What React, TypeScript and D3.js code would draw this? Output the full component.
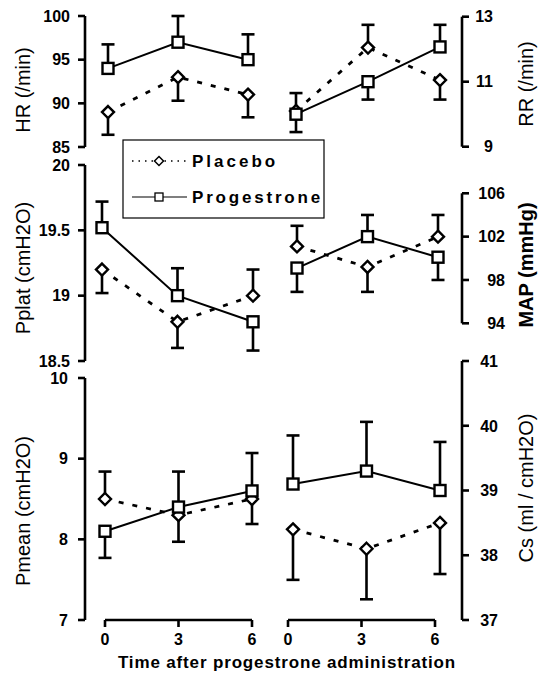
import React from 'react';
import * as d3 from 'd3';

// ---- data ----
const times = [0, 3, 6];
const xTickLabels = ['0', '3', '6'];
const xTitle = 'Time after progestrone administration';
const seriesNames = ['Placebo', 'Progestrone'];

// signed error: positive = bar drawn upward, negative = downward
const hrPlacebo = [89, 93, 91];
const hrPlaceboErr = [-2.6, -2.7, -2.6];
const hrProg = [94, 97, 95];
const hrProgErr = [2.75, 3.0, 2.9];

const rrPlacebo = [10.1, 12.05, 11.05];
const rrPlaceboErr = [0.55, 0.7, -0.6];
const rrProg = [10.0, 11.0, 12.07];
const rrProgErr = [-0.55, -0.55, 0.68];

const pplatPlacebo = [19.2, 18.8, 19.0];
const pplatPlaceboErr = [-0.18, -0.2, 0.2];
const pplatProg = [19.52, 19.0, 18.8];
const pplatProgErr = [0.2, 0.21, -0.22];

const mapPlacebo = [101.1, 99.2, 102.0];
const mapPlaceboErr = [1.9, -2.3, 2.0];
const mapProg = [99.1, 102.0, 100.1];
const mapProgErr = [-2.2, 2.0, -2.1];

const pmeanPlacebo = [8.5, 8.3, 8.5];
const pmeanPlaceboErr = [0.34, -0.33, -0.31];
const pmeanProg = [8.1, 8.4, 8.6];
const pmeanProgErr = [-0.33, 0.44, 0.47];

const csPlacebo = [38.4, 38.1, 38.5];
const csPlaceboErr = [-0.78, -0.78, -0.79];
const csProg = [39.1, 39.3, 39.0];
const csProgErr = [0.75, 0.76, 0.75];

const hrTicks = [85, 90, 95, 100];
const rrTicks = [9, 11, 13];
const pplatTicks = [18.5, 19, 19.5, 20];
const mapTicks = [94, 98, 102, 106];
const pmeanTicks = [7, 8, 9, 10];
const csTicks = [37, 38, 39, 40, 41];

// ---- layout ----
const W = 542;
const H = 677;
const FONT = "'Liberation Sans', Arial, Helvetica, sans-serif";
const LEFT_AXIS_X = 85;
const RIGHT_AXIS_X = 462;

type Panel = {
  title: string;
  side: 'left' | 'right';
  ticks: number[];
  yRange: [number, number];
  xRange: [number, number];
  tickLabelX: number;
  titleY: number;
  titleBold: boolean;
  placebo: number[];
  placeboErr: number[];
  prog: number[];
  progErr: number[];
};

const panels: Panel[] = [
  { title: 'HR (/min)', side: 'left', ticks: hrTicks, yRange: [147, 16], xRange: [108, 248], tickLabelX: 70, titleY: 90, titleBold: false, placebo: hrPlacebo, placeboErr: hrPlaceboErr, prog: hrProg, progErr: hrProgErr },
  { title: 'Pplat (cmH2O)', side: 'left', ticks: pplatTicks, yRange: [361, 165], xRange: [102, 253], tickLabelX: 70, titleY: 268, titleBold: false, placebo: pplatPlacebo, placeboErr: pplatPlaceboErr, prog: pplatProg, progErr: pplatProgErr },
  { title: 'Pmean (cmH2O)', side: 'left', ticks: pmeanTicks, yRange: [620, 378], xRange: [105, 252], tickLabelX: 68, titleY: 511, titleBold: false, placebo: pmeanPlacebo, placeboErr: pmeanPlaceboErr, prog: pmeanProg, progErr: pmeanProgErr },
  { title: 'RR (/min)', side: 'right', ticks: rrTicks, yRange: [146.7, 16.7], xRange: [296, 440], tickLabelX: 493, titleY: 84, titleBold: false, placebo: rrPlacebo, placeboErr: rrPlaceboErr, prog: rrProg, progErr: rrProgErr },
  { title: 'MAP (mmHg)', side: 'right', ticks: mapTicks, yRange: [323.3, 193.3], xRange: [297, 438], tickLabelX: 505, titleY: 265, titleBold: true, placebo: mapPlacebo, placeboErr: mapPlaceboErr, prog: mapProg, progErr: mapProgErr },
  { title: 'Cs (ml / cmH2O)', side: 'right', ticks: csTicks, yRange: [620, 361], xRange: [293, 440], tickLabelX: 498, titleY: 488, titleBold: false, placebo: csPlacebo, placeboErr: csPlaceboErr, prog: csProg, progErr: csProgErr },
];

const xAxes: { range: [number, number] }[] = [
  { range: [105, 252] },
  { range: [288, 435] },
];
const X_AXIS_Y = 620;

const diamondPath = (cx: number, cy: number, r: number) =>
  `M${cx},${cy - r}L${cx + r},${cy}L${cx},${cy + r}L${cx - r},${cy}Z`;

function PanelView({ p }: { p: Panel }) {
  const ticks = p.ticks;
  const y = d3.scaleLinear().domain([ticks[0], ticks[ticks.length - 1]]).range(p.yRange);
  const x = d3.scaleLinear().domain([0, 6]).range(p.xRange);
  const axisX = p.side === 'left' ? LEFT_AXIS_X : RIGHT_AXIS_X;
  const tickDir = p.side === 'left' ? -7 : 7;
  const titleX = p.side === 'left' ? 30 : 533;

  const line = d3.line<number>().x((_, i) => x(times[i])).y((v) => y(v));
  const cap = 6.5;

  const errBars = (vals: number[], errs: number[], key: string) =>
    vals.map((v, i) => {
      const cx = x(times[i]);
      const y1 = y(v);
      const y2 = y(v + errs[i]);
      return (
        <g key={key + i}>
          <line x1={cx} x2={cx} y1={y1} y2={y2} stroke="#000" strokeWidth={2.6} />
          <line x1={cx - cap} x2={cx + cap} y1={y2} y2={y2} stroke="#000" strokeWidth={2.6} />
        </g>
      );
    });

  return (
    <g>
      <line x1={axisX} x2={axisX} y1={p.yRange[0]} y2={p.yRange[1]} stroke="#000" strokeWidth={2.6} />
      {ticks.map((t) => (
        <g key={t}>
          <line x1={axisX} x2={axisX + tickDir} y1={y(t)} y2={y(t)} stroke="#000" strokeWidth={2.6} />
          <text x={p.tickLabelX} y={y(t)} dy="0.36em" textAnchor="end" fontFamily={FONT} fontWeight="bold" fontSize={16}>
            {String(t)}
          </text>
        </g>
      ))}
      <text
        transform={`translate(${titleX},${p.titleY}) rotate(-90)`}
        textAnchor="middle"
        fontFamily={FONT}
        fontSize={20}
        fontWeight={p.titleBold ? 'bold' : 'normal'}
      >
        {p.title}
      </text>
      {errBars(p.placebo, p.placeboErr, 'pe')}
      {errBars(p.prog, p.progErr, 'ge')}
      <path d={line(p.placebo) || ''} fill="none" stroke="#000" strokeWidth={2.8} strokeDasharray="5,9" />
      <path d={line(p.prog) || ''} fill="none" stroke="#000" strokeWidth={2} />
      {p.placebo.map((v, i) => (
        <path key={'pm' + i} d={diamondPath(x(times[i]), y(v), 6)} fill="#fff" stroke="#000" strokeWidth={2.4} />
      ))}
      {p.prog.map((v, i) => (
        <rect key={'gm' + i} x={x(times[i]) - 5.5} y={y(v) - 5.5} width={11} height={11} fill="#fff" stroke="#000" strokeWidth={2.4} />
      ))}
    </g>
  );
}

export default function App() {
  return (
    <svg width={W} height={H} style={{ position: 'absolute', left: 0, top: 0, display: 'block', background: '#fff' }}>
      <rect x={0} y={0} width={W} height={H} fill="#fff" />
      {panels.map((p, i) => (
        <PanelView key={i} p={p} />
      ))}
      {xAxes.map((a, i) => {
        const xs = d3.scaleLinear().domain([0, 6]).range(a.range);
        return (
          <g key={'xa' + i}>
            <line x1={a.range[0]} x2={a.range[1]} y1={X_AXIS_Y} y2={X_AXIS_Y} stroke="#000" strokeWidth={2.6} />
            {times.map((t, j) => (
              <g key={t}>
                <line x1={xs(t)} x2={xs(t)} y1={X_AXIS_Y} y2={X_AXIS_Y + 7} stroke="#000" strokeWidth={2.6} />
                <text x={xs(t)} y={645} textAnchor="middle" fontFamily={FONT} fontWeight="bold" fontSize={16}>
                  {xTickLabels[j]}
                </text>
              </g>
            ))}
          </g>
        );
      })}
      <text x={287} y={668} textAnchor="middle" fontFamily={FONT} fontWeight="bold" fontSize={17} letterSpacing={0.85}>
        {xTitle}
      </text>
      <g>
        <rect x={123} y={140} width={201} height={78} fill="#fff" stroke="#000" strokeWidth={1.2} />
        <line x1={132} x2={187} y1={161} y2={161} stroke="#000" strokeWidth={1.5} strokeDasharray="1.5,5" />
        <path d={diamondPath(159, 161, 4.5)} fill="#fff" stroke="#000" strokeWidth={1.5} />
        <text x={192} y={167} fontFamily={FONT} fontWeight="bold" fontSize={17} letterSpacing={3}>
          {seriesNames[0]}
        </text>
        <line x1={132} x2={187} y1={197} y2={197} stroke="#000" strokeWidth={1.2} />
        <rect x={155} y={193} width={8} height={8} fill="#fff" stroke="#000" strokeWidth={1.3} />
        <text x={192} y={203} fontFamily={FONT} fontWeight="bold" fontSize={17} letterSpacing={2.8}>
          {seriesNames[1]}
        </text>
      </g>
    </svg>
  );
}
